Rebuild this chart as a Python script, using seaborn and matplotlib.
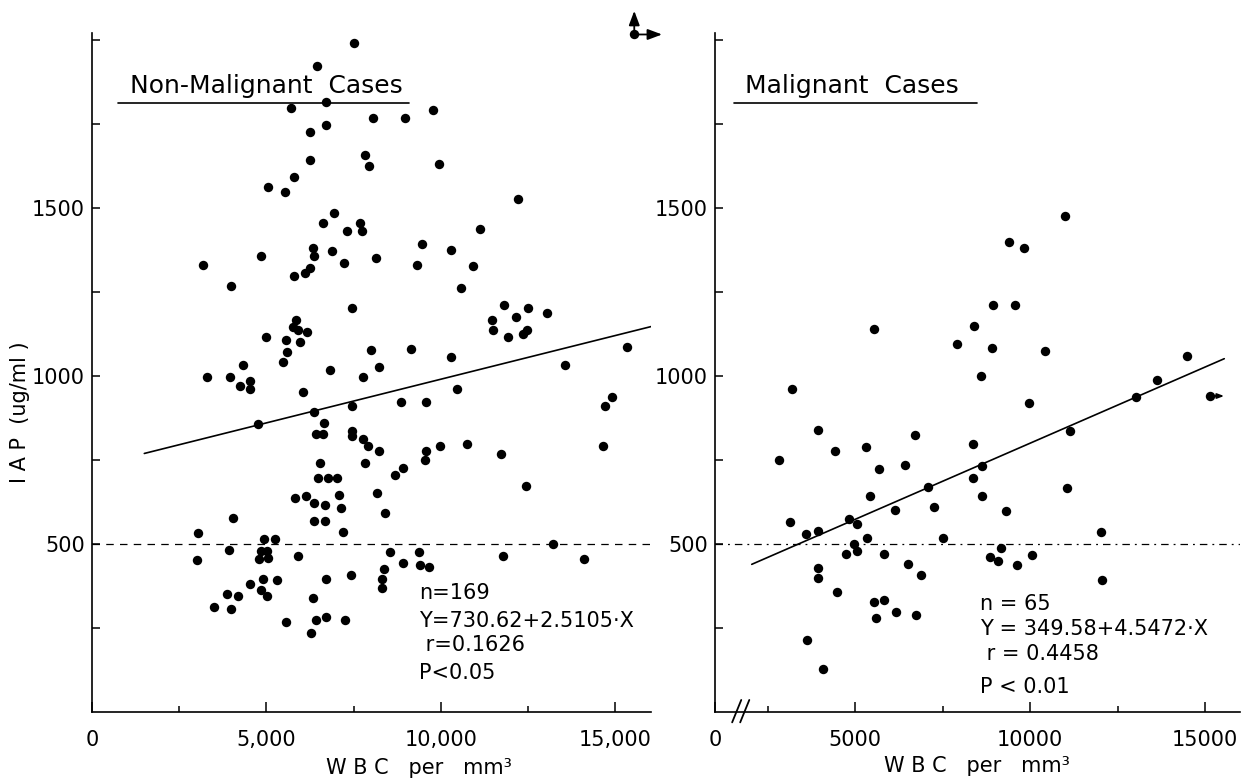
import matplotlib
matplotlib.use("Agg")
import matplotlib.pyplot as plt
import matplotlib.transforms as mtransforms
import pandas as pd
import seaborn as sns

# ---------------- data ----------------
nm_wbc = [7500, 6450, 6700, 5710, 6720, 8060, 8970, 9770, 6260, 6240, 7840, 7945, 9950, 5780, 5040, 5540,
          12220, 6940, 6610, 7680, 7320, 7730, 11130, 9470, 10290, 4840, 6335, 6375, 6890, 8135,
          3180, 7235, 9330, 10930, 5785, 6100, 6250, 3985, 10590, 7450, 11820, 12490, 13050, 11460, 12170,
          5860, 5765, 5920, 6155, 4990, 5570, 5955, 5595, 5490, 11500, 11930, 12350, 12480, 8000, 9150,
          15330, 10290, 13560, 6830, 8240, 7775, 3305, 3970, 4330, 4250, 4535, 4535, 10470, 6060, 8865,
          9575, 14915, 14715, 7470, 6365, 4765, 6640, 6410, 6625, 7445, 7445, 7775, 7925, 8220, 9965,
          10740, 11740, 14660, 9575, 9555, 6545, 7815, 8920, 8700, 6485, 6760, 7015, 12435, 5815, 6145,
          7085, 8165,
          6375, 6675, 7140, 8410, 4035, 6375, 6675, 7195, 3030, 3000, 4935, 5255, 3920, 4850, 5020, 4790,
          5040, 5910, 8550, 9375, 8930, 11800, 13230, 14110, 9415, 9660, 8380, 7425, 6715, 8315, 8315,
          4895, 5305, 4545, 4850, 5010, 3865, 4175, 3505, 3985, 6335, 5550, 6430, 6715, 7265, 6290]
nm_iap = [1990, 1920, 1815, 1795, 1745, 1765, 1765, 1790, 1725, 1640, 1655, 1625, 1630, 1590, 1560, 1545,
          1525, 1485, 1455, 1455, 1430, 1430, 1435, 1390, 1375, 1355, 1380, 1355, 1370, 1350,
          1330, 1335, 1330, 1325, 1295, 1305, 1320, 1265, 1260, 1200, 1210, 1200, 1185, 1165, 1175,
          1165, 1145, 1135, 1130, 1115, 1105, 1100, 1070, 1040, 1135, 1115, 1125, 1135, 1075, 1080,
          1085, 1055, 1030, 1015, 1025, 995, 995, 995, 1030, 970, 985, 960, 960, 950, 920,
          920, 935, 910, 910, 890, 855, 860, 825, 825, 835, 820, 810, 790, 775, 790,
          795, 765, 790, 775, 750, 740, 740, 725, 705, 695, 695, 695, 670, 635, 640,
          645, 650,
          620, 615, 605, 590, 577, 567, 567, 535, 532, 452, 512, 512, 481, 477, 477, 454,
          457, 464, 474, 475, 443, 464, 499, 455, 435, 430, 424, 405, 394, 394, 368,
          394, 390, 378, 363, 345, 350, 343, 310, 305, 339, 265, 272, 280, 273, 235]
nm_off_wbc = [15550]          # off-scale case (arrows up / right)
nm_off_iap = [2015]

m_wbc = [10990, 9405, 9820, 8940, 9560, 5530, 8400, 7920, 8910, 10425, 14475, 8610, 13625, 3195,
         13030, 9970, 11140, 3935, 6700, 8365, 4420, 5315, 2840, 5680, 6420, 8640, 7095, 8365, 11060,
         5440, 8620, 3135, 3610, 3935, 4830, 5045, 6135, 7245, 9305, 12030, 4975, 5345, 7510, 4750,
         5065, 5840, 6510, 6890, 3955, 3955, 4480, 8860, 9075, 9185, 9630, 10060, 12060, 5540, 5840,
         5590, 6185, 6730, 3640, 4075]
m_iap = [1476, 1397, 1379, 1210, 1210, 1139, 1146, 1093, 1082, 1073, 1058, 1000, 988, 961,
         935, 919, 834, 839, 823, 797, 776, 786, 748, 722, 733, 732, 669, 695, 666,
         641, 641, 564, 528, 538, 573, 557, 600, 610, 597, 535, 500, 517, 517, 470,
         477, 470, 438, 405, 428, 398, 355, 460, 449, 486, 436, 466, 390, 327, 333,
         277, 295, 288, 214, 126]
m_off_wbc = [15150]           # off-scale case (arrow right)
m_off_iap = [939]

# regression lines (end points)
nm_line_wbc = [1500, 16200]
nm_line_iap = [768, 1150]
m_line_wbc = [2050, 15550]
m_line_iap = [438, 1050]

ref_level = 500

nm_stats = ["n=169", "Y=730.62+2.5105·X", " r=0.1626", "P<0.05"]
m_stats = ["n = 65", "Y = 349.58+4.5472·X", " r = 0.4458", "P < 0.01"]

yticks_major = [500, 1000, 1500]
yticks_minor = [250, 750, 1250, 1750, 2000]
nm_xticks = [0, 5000, 10000, 15000]
nm_xlabels = ["0", "5,000", "10,000", "15,000"]
m_xticks = [1000, 5000, 10000, 15000]
m_xlabels = ["0", "5000", "10000", "15000"]
xticks_minor = [2500, 7500, 12500]

# ---------------- style ----------------
sns.set_theme(style="ticks")
plt.rcParams["font.family"] = ["DejaVu Sans"]
plt.rcParams["axes.linewidth"] = 1.2
for k in ["text.color", "axes.labelcolor", "xtick.color", "ytick.color", "axes.edgecolor"]:
    plt.rcParams[k] = "black"

W, H = 1243, 784
fig = plt.figure(figsize=(W / 100, H / 100), dpi=100)
fig.patch.set_facecolor("white")

ax1 = fig.add_axes([92 / W, 1 - 711.5 / H, 559 / W, 678.7 / H])
ax2 = fig.add_axes([715 / W, 1 - 711.5 / H, 525 / W, 678.7 / H])

nm_df = pd.DataFrame({"wbc": nm_wbc, "iap": nm_iap})
m_df = pd.DataFrame({"wbc": m_wbc, "iap": m_iap})

def style_axes(ax, xlim, xt, xl):
    ax.set_xlim(*xlim)
    ax.set_ylim(0, 2020)
    for s in ["top", "right"]:
        ax.spines[s].set_visible(False)
    ax.set_yticks(yticks_major)
    ax.set_yticks(yticks_minor, minor=True)
    ax.set_yticklabels([str(v) for v in yticks_major])
    ax.set_xticks(xt)
    ax.set_xticklabels(xl)
    ax.set_xticks(xticks_minor, minor=True)
    ax.tick_params(axis="x", which="major", direction="in", length=7.5, width=1.1,
                   labelsize=15, pad=13, colors="black")
    ax.tick_params(axis="x", which="minor", direction="in", length=4.5, width=1.1)
    ax.tick_params(axis="y", which="both", direction="in", length=6, width=1.1,
                   labelsize=15, pad=5, colors="black")
    ax.set_xlabel("")
    ax.set_ylabel("")
    ax.set_facecolor("white")

for ax, df, lx, ly in [(ax1, nm_df, nm_line_wbc, nm_line_iap), (ax2, m_df, m_line_wbc, m_line_iap)]:
    sns.scatterplot(data=df, x="wbc", y="iap", ax=ax, color="black", s=46,
                    edgecolor="black", linewidth=0, legend=False, clip_on=False)
    sns.lineplot(x=lx, y=ly, ax=ax, color="black", linewidth=1.2, legend=False)

style_axes(ax1, (0, 16030), nm_xticks, nm_xlabels)
style_axes(ax2, (1000, 16000), m_xticks, m_xlabels)

# dashed reference line at 500
ax1.axhline(ref_level, color="black", linewidth=0.9, dashes=(6, 5))
ax2.axhline(ref_level, color="black", linewidth=0.9, dashes=(6, 4, 1.5, 4))

# off-scale points with arrows
sns.scatterplot(x=nm_off_wbc, y=nm_off_iap, ax=ax1, color="black", s=46, linewidth=0,
                legend=False, clip_on=False)
sns.scatterplot(x=m_off_wbc, y=m_off_iap, ax=ax2, color="black", s=46, linewidth=0,
                legend=False, clip_on=False)

def arrow(ax, x, y, dx, dy, hw):
    tr = mtransforms.offset_copy(ax.transData, fig=fig, x=dx, y=dy, units="points")
    ax.annotate("", xy=(x, y), xycoords=tr, xytext=(x, y), textcoords="data",
                arrowprops=dict(arrowstyle=f"-|>,head_length={hw*1.6},head_width={hw*0.6}",
                                color="black", lw=1.3, shrinkA=0, shrinkB=0),
                annotation_clip=False)

arrow(ax1, nm_off_wbc[0], nm_off_iap[0], 0, 17, 0.45)
arrow(ax1, nm_off_wbc[0], nm_off_iap[0], 20, 0, 0.45)
arrow(ax2, m_off_wbc[0], m_off_iap[0], 10, 0, 0.2)

# titles with underline
ax1.text(4990, 1862, "Non-Malignant  Cases", fontsize=18, ha="center", va="center")
ax1.plot([746, 9091], [1812, 1812], color="black", linewidth=1.2)
ax2.text(4914, 1862, "Malignant  Cases", fontsize=18, ha="center", va="center")
ax2.plot([1543, 8477], [1812, 1812], color="black", linewidth=1.2)

# statistics
for t, yy in zip(nm_stats, [352, 268, 197, 114]):
    ax1.text(9385, yy, t, fontsize=15, ha="left", va="center")
for t, yy in zip(m_stats, [321, 246, 172, 72]):
    ax2.text(8562, yy, t, fontsize=15, ha="left", va="center")

# axis break marks on the right x-axis
brk = mtransforms.blended_transform_factory(ax2.transData, ax2.transAxes)
for x0 in [1490, 1720]:
    ax2.plot([x0, x0 + 260], [-0.016, 0.017], color="black", linewidth=1.3,
             transform=brk, clip_on=False)

# axis labels
fig.text(20 / W, 1 - 412 / H, "I A P  (ug/ml )", rotation=90, fontsize=15,
         ha="center", va="center")
fig.text(419 / W, 1 - 768 / H, "W B C   per   mm³", fontsize=15, ha="center", va="center")
fig.text(977 / W, 1 - 766 / H, "W B C   per   mm³", fontsize=15, ha="center", va="center")

fig.savefig("out.png", dpi=100, facecolor="white")
